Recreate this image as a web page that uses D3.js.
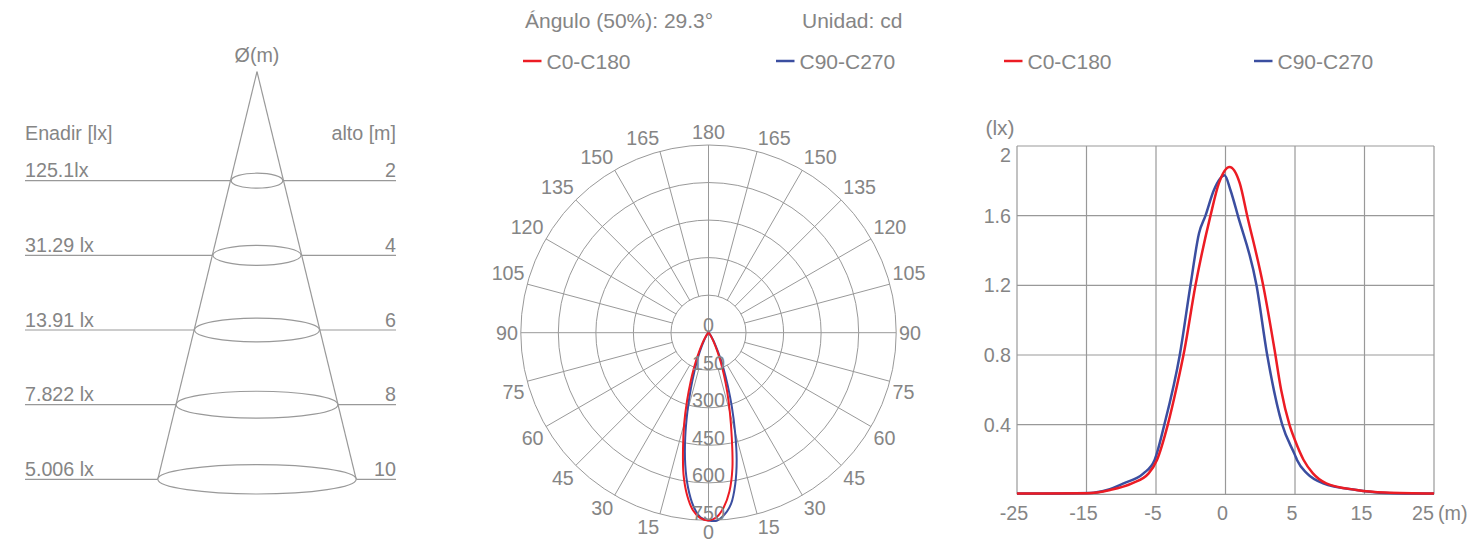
<!DOCTYPE html>
<html><head><meta charset="utf-8">
<script src="https://cdn.jsdelivr.net/npm/d3@7/dist/d3.min.js"></script>
<style>
html,body{margin:0;padding:0;background:#fff;}
svg text{font-family:"Liberation Sans",Arial,Helvetica,sans-serif;font-size:19.7px;fill:#858585;}
svg text.big{font-size:21px;}
</style></head>
<body>
<svg id="chart" width="1468" height="542"></svg>
<script>
// ---------- DATA ----------
const coneHeights = [2, 4, 6, 8, 10];
const coneLuxLabels = ["125.1lx", "31.29 lx", "13.91 lx", "7.822 lx", "5.006 lx"];

const polarAngles = [0, 2.5, 5, 7.5, 10, 12.5, 15, 17.5, 20, 22.5, 25, 30, 35, 40, 45, 50, 60, 70, 80, 90];
const c0Right   = [750, 738, 700, 640, 550, 430, 330, 250, 182, 128, 88, 40, 18, 8, 4, 2, 0, 0, 0, 0];   // C0
const c180Left  = [750, 742, 712, 655, 575, 470, 375, 285, 210, 150, 105, 50, 22, 10, 5, 2, 0, 0, 0, 0];   // C180
const c90Right  = [750, 752, 730, 690, 615, 520, 410, 310, 225, 160, 110, 50, 22, 10, 5, 2, 0, 0, 0, 0];   // C90
const c270Left  = [750, 738, 695, 625, 535, 430, 325, 235, 165, 115, 80, 35, 15, 7, 3, 1, 0, 0, 0, 0];     // C270
const polarRings = [150, 300, 450, 600, 750];
const polarValueLabels = [0, 150, 300, 450, 600, 750];
const polarAngleLabels = [0, 15, 30, 45, 60, 75, 90, 105, 120, 135, 150, 165, 180];

const xTickValues = [-25, -15, -5, 0, 5, 15, 25];
const yTickValues = [0.4, 0.8, 1.2, 1.6, 2];
const redX  = [-25, -15, -11.6, -8.46, -6.06, -4.93, -4.15, -3.5, -2.95, -2.16, -1.08, -0.48, 0.29, 1.03, 1.56, 2.71, 3.53, 4.0, 4.6, 5, 6.24, 7.58, 9.5, 13.85, 18, 25];
const redY  = [0.004, 0.006, 0.025, 0.063, 0.12, 0.197, 0.4, 0.62, 0.83, 1.2, 1.6, 1.785, 1.88, 1.785, 1.6, 1.2, 0.83, 0.6, 0.4, 0.31, 0.197, 0.12, 0.063, 0.025, 0.01, 0.004];
const blueX = [-25, -14.5, -12.05, -9.66, -6.8, -5.2, -4.4, -3.29, -2.52, -1.9, -1.44, -0.84, -0.07, 0.36, 0.89, 2.23, 3.0, 4.08, 5, 5.29, 6.72, 9.05, 13.85, 18, 25];
const blueY = [0.004, 0.008, 0.025, 0.063, 0.12, 0.197, 0.4, 0.8, 1.2, 1.5, 1.6, 1.746, 1.832, 1.746, 1.6, 1.2, 0.8, 0.4, 0.225, 0.197, 0.12, 0.063, 0.025, 0.008, 0.004];

const RED = "#ec1c24", BLUE = "#3b4ea0", GRID = "#999999";

const svg = d3.select("#chart");

// ---------- CONE PANEL ----------
const cone = svg.append("g");
const apex = {x: 257, y: 71.7};
const yCone = d3.scaleLinear().domain([2, 10]).range([180.7, 479.3]);
const rxCone = d3.scaleLinear().domain([2, 10]).range([25.8, 99.2]);
const ryCone = d3.scalePow().exponent(0.42).domain([0, 10]).range([0, 14.7]);

cone.append("text").attr("x", apex.x).attr("y", 62).attr("text-anchor", "middle").text("Ø(m)");
cone.append("text").attr("x", 25).attr("y", 140).text("Enadir [lx]");
cone.append("text").attr("x", 396).attr("y", 140).attr("text-anchor", "end").text("alto [m]");

cone.selectAll("line.lvl").data(coneHeights).join("line").attr("class", "lvl")
  .attr("x1", 25).attr("x2", 396).attr("y1", d => yCone(d)).attr("y2", d => yCone(d))
  .attr("stroke", GRID).attr("stroke-width", 1.2);
const hMax = d3.max(coneHeights);
[-1, 1].forEach(s => {
  cone.append("line").attr("x1", apex.x).attr("y1", apex.y)
    .attr("x2", apex.x + s * rxCone(hMax)).attr("y2", yCone(hMax))
    .attr("stroke", GRID).attr("stroke-width", 1.2);
});
cone.selectAll("ellipse").data(coneHeights).join("ellipse")
  .attr("cx", apex.x).attr("cy", d => yCone(d))
  .attr("rx", d => rxCone(d)).attr("ry", d => ryCone(d))
  .attr("fill", "#fff").attr("stroke", GRID).attr("stroke-width", 1.2);
cone.selectAll("text.lux").data(coneHeights).join("text").attr("class", "lux")
  .attr("x", 25).attr("y", d => yCone(d) - 3.5).text((d, i) => coneLuxLabels[i]);
cone.selectAll("text.h").data(coneHeights).join("text").attr("class", "h")
  .attr("x", 396).attr("y", d => yCone(d) - 3.5).attr("text-anchor", "end").text(d => d);

// ---------- HEADER / LEGENDS ----------
svg.append("text").attr("class", "big").attr("x", 525).attr("y", 27.5).text("Ángulo (50%): 29.3°");
svg.append("text").attr("class", "big").attr("x", 802).attr("y", 27.5).text("Unidad: cd");
const legends = [
  {x: 523, c: RED, t: "C0-C180"}, {x: 776, c: BLUE, t: "C90-C270"},
  {x: 1004, c: RED, t: "C0-C180"}, {x: 1254, c: BLUE, t: "C90-C270"}
];
legends.forEach(l => {
  svg.append("line").attr("x1", l.x).attr("x2", l.x + 18.5).attr("y1", 61).attr("y2", 61)
    .attr("stroke", l.c).attr("stroke-width", 2.5);
  svg.append("text").attr("class", "big").attr("x", l.x + 23.5).attr("y", 68.5).text(l.t);
});

// ---------- POLAR ----------
const cx = 708.5, cy = 332.7;
const rScale = d3.scaleLinear().domain([0, 750]).range([0, 187.7]);
const pg = svg.append("g").attr("transform", `translate(${cx},${cy})`);
pg.selectAll("circle").data(polarRings).join("circle")
  .attr("r", d => rScale(d)).attr("fill", "none").attr("stroke", GRID).attr("stroke-width", 1);
const spokes = d3.range(0, 360, 15);
pg.selectAll("line.spoke").data(spokes).join("line").attr("class", "spoke")
  .each(function(a) {
    const rad = a * Math.PI / 180;
    const r0 = (a % 90 === 0) ? 0 : rScale(polarRings[0]);
    const r1 = rScale(d3.max(polarRings));
    d3.select(this)
      .attr("x1", r0 * Math.sin(rad)).attr("y1", r0 * Math.cos(rad))
      .attr("x2", r1 * Math.sin(rad)).attr("y2", r1 * Math.cos(rad));
  })
  .attr("stroke", GRID).attr("stroke-width", 1);

// angle labels: box placed just outside the outer ring
const Lr = rScale(750) + 2.8;
const angLabels = [];
polarAngleLabels.forEach(a => {
  angLabels.push({a: a, side: 1});
  if (a !== 0 && a !== 180) angLabels.push({a: a, side: -1});
});
function sgn(v) { return Math.abs(v) < 1e-6 ? 0 : Math.sign(v); }
pg.selectAll("text.ang").data(angLabels).join("text").attr("class", "ang")
  .each(function(d) {
    const rad = d.a * Math.PI / 180;
    const sx = d.side * Math.sin(rad), cy_ = Math.cos(rad);
    const s1 = sgn(sx), s2 = sgn(cy_);
    const yy = Math.min(Lr * cy_ + 10.5 * s2 + 7, 542 - cy - 2.8);
    d3.select(this)
      .attr("x", Lr * sx)
      .attr("y", yy)
      .attr("text-anchor", s1 > 0 ? "start" : (s1 < 0 ? "end" : "middle"))
      .text(d.a);
  });

// polar curves
function polarPoints(leftI, rightI) {
  const pts = [];
  for (let i = polarAngles.length - 1; i >= 0; i--)
    pts.push([Math.PI + polarAngles[i] * Math.PI / 180, rScale(leftI[i])]);
  for (let i = 1; i < polarAngles.length; i++)
    pts.push([Math.PI - polarAngles[i] * Math.PI / 180, rScale(rightI[i])]);
  return pts;
}
const radial = d3.lineRadial().angle(d => d[0]).radius(d => d[1]).curve(d3.curveCatmullRom.alpha(0.5));
pg.append("path").attr("d", radial(polarPoints(c270Left, c90Right)))
  .attr("fill", "none").attr("stroke", BLUE).attr("stroke-width", 2);
pg.append("path").attr("d", radial(polarPoints(c180Left, c0Right)))
  .attr("fill", "none").attr("stroke", RED).attr("stroke-width", 2);

// radial value labels
pg.selectAll("text.val").data(polarValueLabels).join("text").attr("class", "val")
  .attr("x", 0).attr("y", d => rScale(d) - 0.5).attr("text-anchor", "middle").text(d => d);

// ---------- CARTESIAN ----------
const x0 = 1017, x1 = 1434;
const xScale = d3.scaleLinear().domain(xTickValues)
  .range(xTickValues.map((d, i) => x0 + i * (x1 - x0) / (xTickValues.length - 1)));
const yScale = d3.scaleLinear().domain([0, 2]).range([494.3, 146]);
const cg = svg.append("g");
cg.selectAll("line.vg").data(xTickValues).join("line").attr("class", "vg")
  .attr("x1", d => xScale(d)).attr("x2", d => xScale(d)).attr("y1", yScale(0)).attr("y2", yScale(2))
  .attr("stroke", GRID).attr("stroke-width", 1.2);
cg.selectAll("line.hg").data([0].concat(yTickValues)).join("line").attr("class", "hg")
  .attr("y1", d => yScale(d)).attr("y2", d => yScale(d)).attr("x1", x0).attr("x2", x1)
  .attr("stroke", GRID).attr("stroke-width", 1.2);
cg.selectAll("text.yt").data(yTickValues).join("text").attr("class", "yt")
  .attr("x", 1011).attr("y", d => yScale(d) + (d === 2 ? 15.5 : 7))
  .attr("text-anchor", "end").text(d => d);
cg.append("text").attr("class", "big").attr("x", 1000).attr("y", 135).attr("text-anchor", "middle").text("(lx)");
cg.selectAll("text.xt").data(xTickValues).join("text").attr("class", "xt")
  .attr("x", (d, i) => i === xTickValues.length - 1 ? xScale(d) : xScale(d) - 3)
  .attr("y", 520)
  .attr("text-anchor", (d, i) => i === xTickValues.length - 1 ? "end" : "middle")
  .text(d => d);
cg.append("text").attr("x", 1438).attr("y", 520).text("(m)");

const line = d3.line().x(d => xScale(d[0])).y(d => yScale(d[1])).curve(d3.curveMonotoneX);
cg.append("path").attr("d", line(blueX.map((v, i) => [v, blueY[i]])))
  .attr("fill", "none").attr("stroke", BLUE).attr("stroke-width", 2.5);
cg.append("path").attr("d", line(redX.map((v, i) => [v, redY[i]])))
  .attr("fill", "none").attr("stroke", RED).attr("stroke-width", 2.5);
</script>
</body></html>
